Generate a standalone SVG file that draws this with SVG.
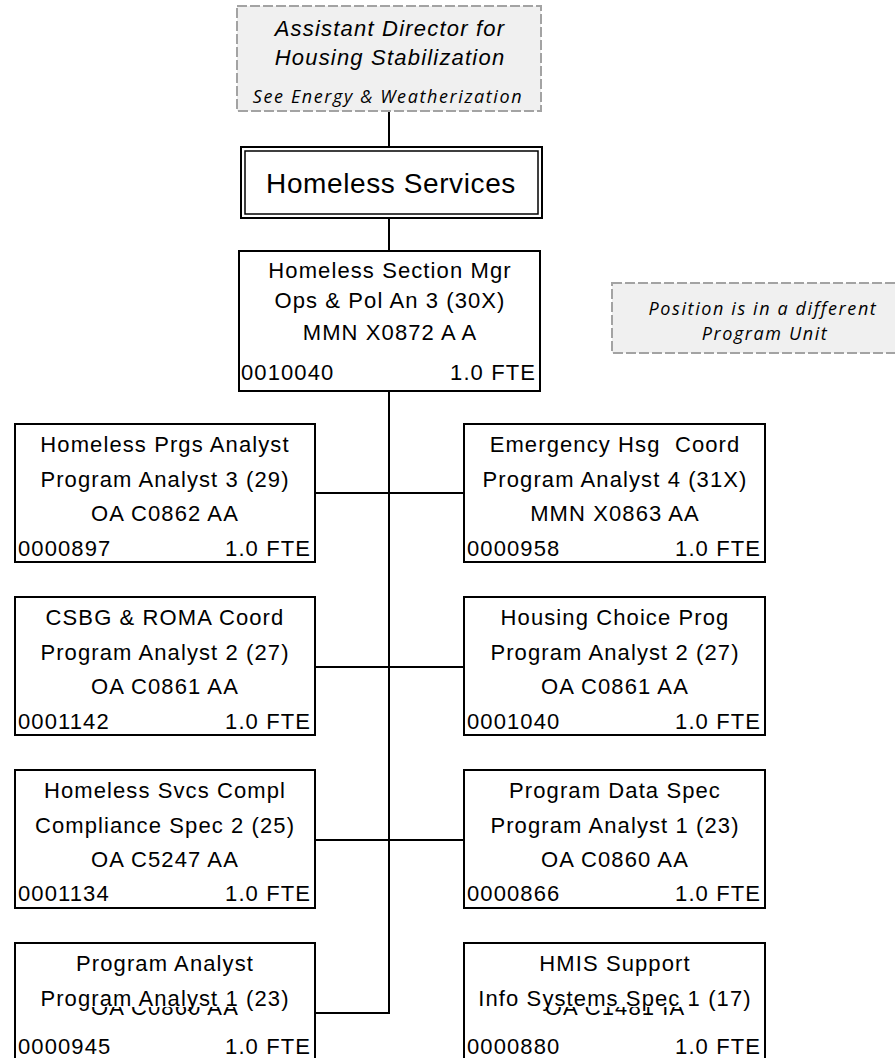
<svg xmlns="http://www.w3.org/2000/svg" width="895" height="1058" viewBox="0 0 895 1058">
  <style>
    .box { fill: #ffffff; stroke: #000000; stroke-width: 2; }
    .ghost { fill: #f0f0f0; stroke: #a3a3a3; stroke-width: 2; stroke-dasharray: 10 3; }
    .t { font-family: "Liberation Sans", Arial, sans-serif; font-size: 22px; letter-spacing: 1.1px; fill: #000000; }
    .c { text-anchor: middle; }
    .r { text-anchor: end; }
    .pre { white-space: pre; }
    .it { font-family: "Liberation Sans", Arial, sans-serif; font-size: 22px; font-style: italic; letter-spacing: 1.2px; fill: #000000; text-anchor: middle; }
    .note { font-family: "Open Sans", "Noto Sans", sans-serif; font-size: 18px; font-style: italic; letter-spacing: 1.6px; fill: #000000; text-anchor: middle; }
    .big { font-family: "Liberation Sans", Arial, sans-serif; font-size: 28px; letter-spacing: 0.6px; fill: #000000; text-anchor: middle; }
    .wire { fill: none; stroke: #000000; stroke-width: 2; }
  </style>
  <defs>
    <clipPath id="clip-left4"><rect x="15" y="1007" width="300" height="20"/></clipPath>
    <clipPath id="clip-right4"><rect x="464" y="1007" width="301" height="20"/></clipPath>
  </defs>
  <rect width="895" height="1058" fill="#ffffff"/>

  <!-- reporting lines -->
  <g id="connectors">
    <path class="wire" d="M389,111 V147"/>
    <path class="wire" d="M389,219 V251"/>
    <path class="wire" d="M389,391 V1013 H315"/>
    <path class="wire" d="M315,493 H464"/>
    <path class="wire" d="M315,667 H464"/>
    <path class="wire" d="M315,840 H464"/>
  </g>

  <g id="asst-director">
    <rect class="ghost" x="237" y="6" width="304" height="105"/>
    <text class="it" x="390" y="36">Assistant Director for</text>
    <text class="it" x="390" y="65">Housing Stabilization</text>
    <text class="note" x="388" y="103">See Energy &amp; Weatherization</text>
  </g>

  <g id="homeless-services">
    <rect x="241" y="147" width="301" height="71" fill="#ffffff" stroke="#000000" stroke-width="2"/>
    <rect x="245" y="151" width="293" height="63" fill="none" stroke="#000000" stroke-width="1.5"/>
    <text class="big" x="391" y="193">Homeless Services</text>
  </g>

  <g id="section-mgr">
    <rect class="box" x="239" y="251" width="301" height="140"/>
    <text class="t c" x="390" y="278">Homeless Section Mgr</text>
    <text class="t c" x="390" y="308">Ops &amp; Pol An 3 (30X)</text>
    <text class="t c" x="390" y="340">MMN X0872 A A</text>
    <text class="t" x="241" y="380">0010040</text>
    <text class="t r" x="536" y="380">1.0 FTE</text>
  </g>

  <g id="legend-note">
    <rect class="ghost" x="612" y="283" width="302" height="70"/>
    <text class="note" x="763" y="315">Position is in a different</text>
    <text class="note" x="765" y="340">Program Unit</text>
  </g>

  <!-- row 1 -->
  <g id="homeless-prgs-analyst">
    <rect class="box" x="15" y="424" width="300" height="138"/>
    <text class="t c" x="165" y="452">Homeless Prgs Analyst</text>
    <text class="t c" x="165" y="487">Program Analyst 3 (29)</text>
    <text class="t c" x="165" y="521">OA C0862 AA</text>
    <text class="t" x="18" y="556">0000897</text>
    <text class="t r" x="311" y="556">1.0 FTE</text>
  </g>
  <g id="emergency-hsg-coord">
    <rect class="box" x="464" y="424" width="301" height="138"/>
    <text class="t c pre" x="615" y="452">Emergency Hsg  Coord</text>
    <text class="t c" x="615" y="487">Program Analyst 4 (31X)</text>
    <text class="t c" x="615" y="521">MMN X0863 AA</text>
    <text class="t" x="467" y="556">0000958</text>
    <text class="t r" x="761" y="556">1.0 FTE</text>
  </g>

  <!-- row 2 -->
  <g id="csbg-roma-coord">
    <rect class="box" x="15" y="597" width="300" height="138"/>
    <text class="t c" x="165" y="625">CSBG &amp; ROMA Coord</text>
    <text class="t c" x="165" y="660">Program Analyst 2 (27)</text>
    <text class="t c" x="165" y="694">OA C0861 AA</text>
    <text class="t" x="18" y="729">0001142</text>
    <text class="t r" x="311" y="729">1.0 FTE</text>
  </g>
  <g id="housing-choice-prog">
    <rect class="box" x="464" y="597" width="301" height="138"/>
    <text class="t c" x="615" y="625">Housing Choice Prog</text>
    <text class="t c" x="615" y="660">Program Analyst 2 (27)</text>
    <text class="t c" x="615" y="694">OA C0861 AA</text>
    <text class="t" x="467" y="729">0001040</text>
    <text class="t r" x="761" y="729">1.0 FTE</text>
  </g>

  <!-- row 3 -->
  <g id="homeless-svcs-compl">
    <rect class="box" x="15" y="770" width="300" height="138"/>
    <text class="t c" x="165" y="798">Homeless Svcs Compl</text>
    <text class="t c" x="165" y="833">Compliance Spec 2 (25)</text>
    <text class="t c" x="165" y="867">OA C5247 AA</text>
    <text class="t" x="18" y="901">0001134</text>
    <text class="t r" x="311" y="901">1.0 FTE</text>
  </g>
  <g id="program-data-spec">
    <rect class="box" x="464" y="770" width="301" height="138"/>
    <text class="t c" x="615" y="798">Program Data Spec</text>
    <text class="t c" x="615" y="833">Program Analyst 1 (23)</text>
    <text class="t c" x="615" y="867">OA C0860 AA</text>
    <text class="t" x="467" y="901">0000866</text>
    <text class="t r" x="761" y="901">1.0 FTE</text>
  </g>

  <!-- row 4: the third line sits under the second and only its foot shows -->
  <g id="program-analyst">
    <rect class="box" x="15" y="943" width="300" height="130"/>
    <text class="t c" x="165" y="971">Program Analyst</text>
    <text class="t c" x="165" y="1015" clip-path="url(#clip-left4)">OA C0860 AA</text>
    <text class="t c" x="165" y="1006">Program Analyst 1 (23)</text>
    <text class="t" x="18" y="1054">0000945</text>
    <text class="t r" x="311" y="1054">1.0 FTE</text>
  </g>
  <g id="hmis-support">
    <rect class="box" x="464" y="943" width="301" height="130"/>
    <text class="t c" x="615" y="971">HMIS Support</text>
    <text class="t c" x="615" y="1015" clip-path="url(#clip-right4)">OA C1481 IA</text>
    <text class="t c" x="615" y="1006">Info Systems Spec 1 (17)</text>
    <text class="t" x="467" y="1054">0000880</text>
    <text class="t r" x="761" y="1054">1.0 FTE</text>
  </g>
</svg>
